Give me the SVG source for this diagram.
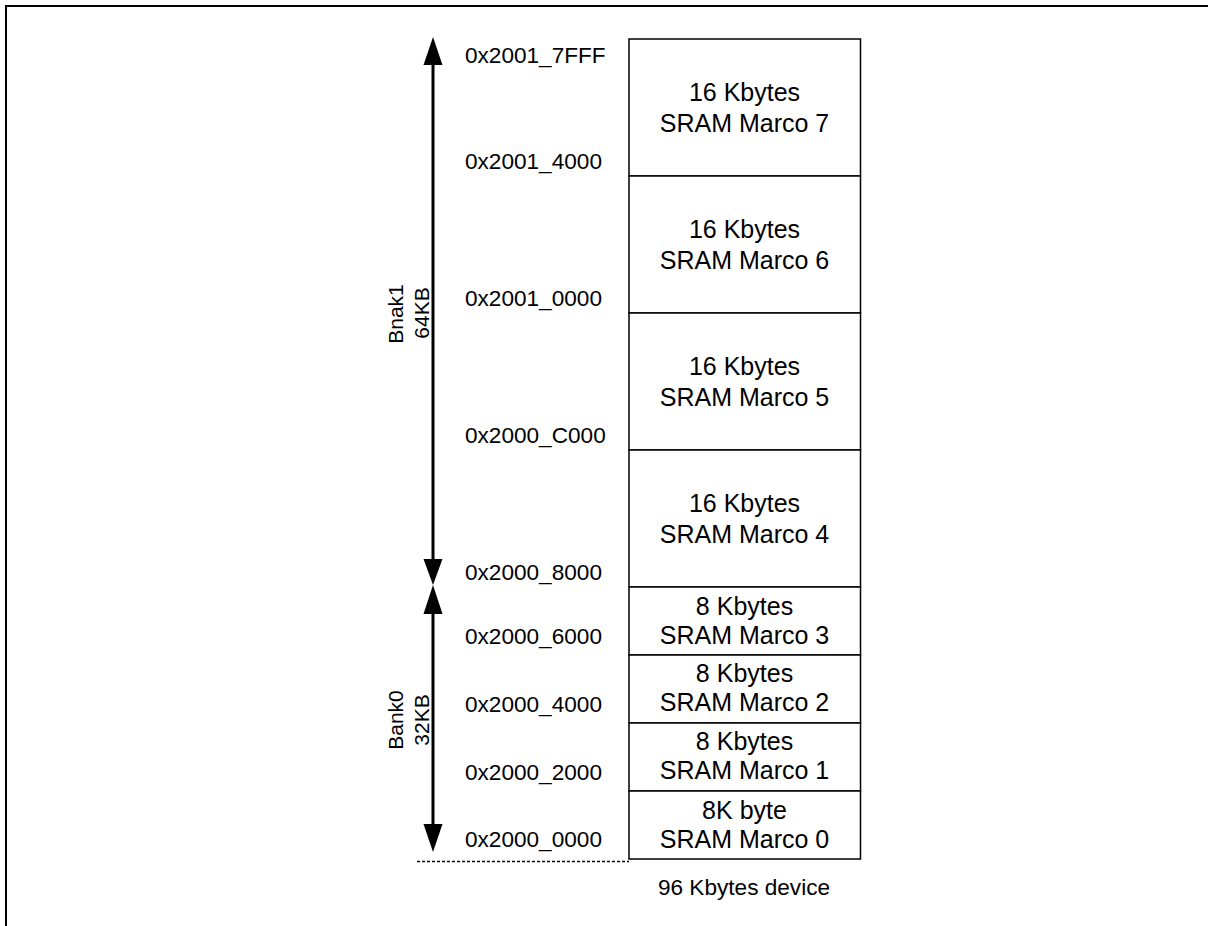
<svg xmlns="http://www.w3.org/2000/svg" width="1208" height="926" viewBox="0 0 1208 926">
<defs>
<style>
text{font-family:"Liberation Sans",Arial,sans-serif;fill:#000}
.addr{font-size:22.6px}
.box{fill:#fff;stroke:#000;stroke-width:1.5}
.bt{font-size:25px;text-anchor:middle}
.bank{font-size:21px;text-anchor:middle}
.ax{stroke:#000;stroke-width:3;fill:none}
</style>
</defs>
<rect width="1208" height="926" fill="#fff"/>
<path d="M6,926 V6 H1208" fill="none" stroke="#000" stroke-width="2"/>
<g id="connectors">
<line class="ax" x1="433" y1="62" x2="433" y2="562"/>
<polygon points="433,37 423.5,65 442.5,65"/>
<polygon points="433,585 423.5,559 442.5,559"/>
<line class="ax" x1="433" y1="610" x2="433" y2="828"/>
<polygon points="433,585 423.5,614 442.5,614"/>
<polygon points="433,852 423.5,824 442.5,824"/>
<line x1="417" y1="861.5" x2="629" y2="861.5" stroke="#000" stroke-width="1.5" stroke-dasharray="3,2"/>
</g>
<g id="m7"><rect class="box" x="629" y="39" width="231.5" height="137"/><text class="bt" x="744.5" y="101">16 Kbytes</text><text class="bt" x="744.5" y="132">SRAM Marco 7</text></g>
<g id="m6"><rect class="box" x="629" y="176" width="231.5" height="137"/><text class="bt" x="744.5" y="238">16 Kbytes</text><text class="bt" x="744.5" y="269">SRAM Marco 6</text></g>
<g id="m5"><rect class="box" x="629" y="313" width="231.5" height="137"/><text class="bt" x="744.5" y="375">16 Kbytes</text><text class="bt" x="744.5" y="406">SRAM Marco 5</text></g>
<g id="m4"><rect class="box" x="629" y="450" width="231.5" height="137"/><text class="bt" x="744.5" y="512">16 Kbytes</text><text class="bt" x="744.5" y="543">SRAM Marco 4</text></g>
<g id="m3"><rect class="box" x="629" y="587" width="231.5" height="68"/><text class="bt" x="744.5" y="615">8 Kbytes</text><text class="bt" x="744.5" y="644">SRAM Marco 3</text></g>
<g id="m2"><rect class="box" x="629" y="655" width="231.5" height="68"/><text class="bt" x="744.5" y="682">8 Kbytes</text><text class="bt" x="744.5" y="711">SRAM Marco 2</text></g>
<g id="m1"><rect class="box" x="629" y="723" width="231.5" height="68"/><text class="bt" x="744.5" y="750">8 Kbytes</text><text class="bt" x="744.5" y="779">SRAM Marco 1</text></g>
<g id="m0"><rect class="box" x="629" y="791" width="231.5" height="68"/><text class="bt" x="744.5" y="819">8K byte</text><text class="bt" x="744.5" y="848">SRAM Marco 0</text></g>
<g id="addresses">
<text class="addr" x="465" y="62.5">0x2001_7FFF</text>
<text class="addr" x="465" y="169">0x2001_4000</text>
<text class="addr" x="465" y="306">0x2001_0000</text>
<text class="addr" x="465" y="443">0x2000_C000</text>
<text class="addr" x="465" y="580">0x2000_8000</text>
<text class="addr" x="465" y="643.5">0x2000_6000</text>
<text class="addr" x="465" y="711.5">0x2000_4000</text>
<text class="addr" x="465" y="779.5">0x2000_2000</text>
<text class="addr" x="465" y="847">0x2000_0000</text>
</g>
<g id="bank1"><text class="bank" transform="translate(403,314) rotate(-90)">Bnak1</text><text class="bank" transform="translate(429,313) rotate(-90)">64KB</text></g>
<g id="bank0"><text class="bank" transform="translate(403,720) rotate(-90)">Bank0</text><text class="bank" transform="translate(429,720) rotate(-90)">32KB</text></g>
<g id="caption"><text x="744" y="895" style="font-size:22.6px;text-anchor:middle">96 Kbytes device</text></g>
</svg>
